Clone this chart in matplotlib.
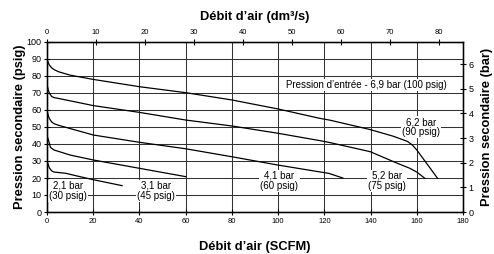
import matplotlib
matplotlib.use("Agg")
import matplotlib.pyplot as plt

plt.rcParams["font.family"] = ["Liberation Sans", "DejaVu Sans"]

# --------- données (SCFM -> psig) ---------
flow_90 = [0, 0.5, 1, 2, 3, 5, 10, 20, 40, 60, 80, 100, 118, 122.5, 139.8, 150, 156, 158, 160, 169]
psig_90 = [90, 88, 86.5, 84.8, 83.8, 82.5, 80.5, 78, 73.7, 70.2, 65.9, 60.6, 55.1, 54, 48.5, 44.5, 41.5, 39.5, 36.5, 19.8]

flow_75 = [0, 0.5, 1, 2, 3, 5, 20, 40, 60, 80, 100, 118, 122.5, 139.8, 151, 157, 160, 163.5]
psig_75 = [75, 72, 70, 68, 67.3, 66.8, 62.6, 58.6, 54.1, 50.6, 46.3, 42, 40.8, 35.5, 29, 25.7, 23.5, 19.8]

flow_60 = [0, 0.5, 1, 2, 3, 5, 20, 40, 60, 80, 100, 122, 128]
psig_60 = [60, 57, 55, 53, 52, 51, 45.3, 41, 37.2, 32.5, 27.6, 22.7, 20]

flow_45 = [0, 0.7, 1.5, 3, 10, 20, 40, 60]
psig_45 = [45, 42, 38, 36.5, 33.5, 30.6, 25.7, 20.8]

flow_30 = [0, 0.5, 1, 2, 3, 8, 12, 20, 32.5]
psig_30 = [30, 28, 26, 24.2, 23.5, 22.8, 21.5, 19, 15.5]

curves = [(flow_90, psig_90), (flow_75, psig_75), (flow_60, psig_60),
          (flow_45, psig_45), (flow_30, psig_30)]

set_labels = ["6,2 bar\n(90 psig)", "5,2 bar\n(75 psig)", "4,1 bar\n(60 psig)",
              "3,1 bar\n(45 psig)", "2,1 bar\n(30 psig)"]
label_pos = [(161.8, 49.8), (147.3, 18.3), (100.6, 18.3), (47, 12.6), (9, 12.6)]
inlet_label = "Pression d’entrée - 6,9 bar (100 psig)"

PSI_TO_BAR = 0.0689476
SCFM_TO_DM3S = 0.4719

# --------- figure ---------
fig = plt.figure(figsize=(4.94, 2.54), dpi=100)
ax = fig.add_axes([47/494, 1 - 212/254, (463 - 47)/494, (212 - 42)/254])

for x, y in curves:
    ax.plot(x, y, color="black", lw=0.9, zorder=4)

ax.set_xlim(0, 180)
ax.set_ylim(0, 100)
ax.set_xticks(range(0, 181, 20))
ax.set_yticks(range(0, 101, 10))
ax.grid(True, color="#333333", lw=0.75)
ax.set_axisbelow(True)

for (tx, ty), lab in zip(label_pos, set_labels):
    ax.text(tx, ty, lab, ha="center", va="center", fontsize=7, linespacing=1.0,
            bbox=dict(facecolor="white", edgecolor="none", pad=0.8), zorder=3)
ax.text(138, 74.7, inlet_label, ha="center", va="center", fontsize=7,
        bbox=dict(facecolor="white", edgecolor="none", pad=0.8), zorder=3)

tick_kw = dict(direction="inout", length=4, width=0.8, labelsize=5.5, pad=2, colors="black")
ax.tick_params(**tick_kw)
ax.tick_params(axis="y", labelsize=6.5)

lab_kw = dict(fontsize=9.3, fontweight="bold")
ax.set_xlabel("Débit d’air (SCFM)", labelpad=12, **lab_kw)
ax.set_ylabel("Pression secondaire (psig)", labelpad=0, **lab_kw)

for s in ax.spines.values():
    s.set_linewidth(1.0)

# axe du haut : dm3/s
top = ax.twiny()
top.set_xlim(0, 180 * SCFM_TO_DM3S)
top.set_xticks(range(0, 81, 10))
top.tick_params(**tick_kw)
top.set_xlabel("Débit d’air (dm³/s)", labelpad=7, **lab_kw)

# axe de droite : bar
right = ax.twinx()
right.set_ylim(0, 100 * PSI_TO_BAR)
right.set_yticks(range(0, 7))
right.tick_params(**tick_kw)
right.tick_params(axis="y", labelsize=6.5)
right.set_ylabel("Pression secondaire (bar)", labelpad=5.5, **lab_kw)

fig.savefig("out.png", dpi=100)
